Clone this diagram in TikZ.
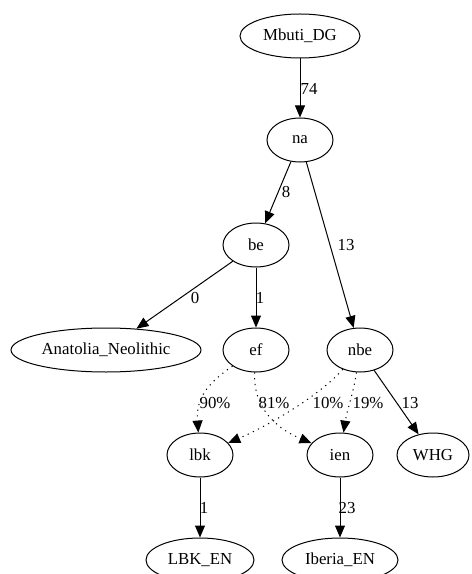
\documentclass[tikz,border=0pt]{standalone}
\usepackage{fontspec}
\setmainfont{Liberation Serif}
\usetikzlibrary{shapes.geometric,arrows.meta}

\tikzset{every picture/.style={line width=0.75pt}}
\tikzset{
  pop/.style={draw,ellipse,inner sep=0pt,minimum height=33pt,font=\fontsize{12.6}{15}\selectfont},
  elabel/.style={inner sep=0.75pt,font=\fontsize{12.6}{15}\selectfont},
  tree/.style={-{Triangle[length=9pt,width=7.5pt]}},
  mix/.style={-{Triangle[length=9pt,width=7.5pt]},dash pattern=on 0.9pt off 3.4pt}
}

\begin{document}
\begin{tikzpicture}[x=0.75pt,y=0.75pt,yscale=-1,xscale=1]
\useasboundingbox (0,0) rectangle (471,574);

%Shape: Ellipses
\node [pop,minimum width=90pt] (mbuti) at (300,36) {Mbuti\_DG};
\node [pop,minimum width=49.5pt] (na) at (300,140) {na};
\node [pop,minimum width=49.5pt] (be) at (256,245) {be};
\node [pop,minimum width=142.5pt] (anatolia) at (106,350) {Anatolia\_Neolithic};
\node [pop,minimum width=49.5pt] (ef) at (256,350) {ef};
\node [pop,minimum width=49.5pt] (nbe) at (360,350) {nbe};
\node [pop,minimum width=49.5pt] (lbk) at (200,455) {lbk};
\node [pop,minimum width=49.5pt] (ien) at (340,455) {ien};
\node [pop,minimum width=54pt] (whg) at (433,455) {WHG};
\node [pop,minimum width=81pt] (lbken) at (200,560) {LBK\_EN};
\node [pop,minimum width=87pt] (iberiaen) at (340,560) {Iberia\_EN};

%Straight Lines
\draw [tree] (mbuti) -- (na);
\draw [tree] (na) -- (be);
\draw [tree] (na) -- (nbe);
\draw [tree] (be) -- (anatolia);
\draw [tree] (be) -- (ef);
\draw [tree] (nbe) -- (whg);
\draw [tree] (lbk) -- (lbken);
\draw [tree] (ien) -- (iberiaen);

%Curve Lines
\draw [mix] (ef) .. controls (205,385) and (196,400) .. (lbk);
\draw [mix] (ef) .. controls (253,400) and (268,425) .. (ien);
\draw [mix] (nbe) .. controls (320,395) and (270,425) .. (lbk);
\draw [mix] (nbe) .. controls (353,395) and (347,410) .. (ien);

% Text Node
\node [elabel] (t74) at (309,89) {74};
\node [elabel] (t8) at (286,192) {8};
\node [elabel] (t13a) at (346,245) {13};
\node [elabel] (t0) at (195,298) {0};
\node [elabel] (t1a) at (260,298) {1};
\node [elabel] (t90) at (215,403) {90\%};
\node [elabel] (t81) at (274,403) {81\%};
\node [elabel] (t10) at (328,403) {10\%};
\node [elabel] (t19) at (368,403) {19\%};
\node [elabel] (t13b) at (410,403) {13};
\node [elabel] (t1b) at (204,508) {1};
\node [elabel] (t23) at (347,508) {23};

\end{tikzpicture}
\end{document}
